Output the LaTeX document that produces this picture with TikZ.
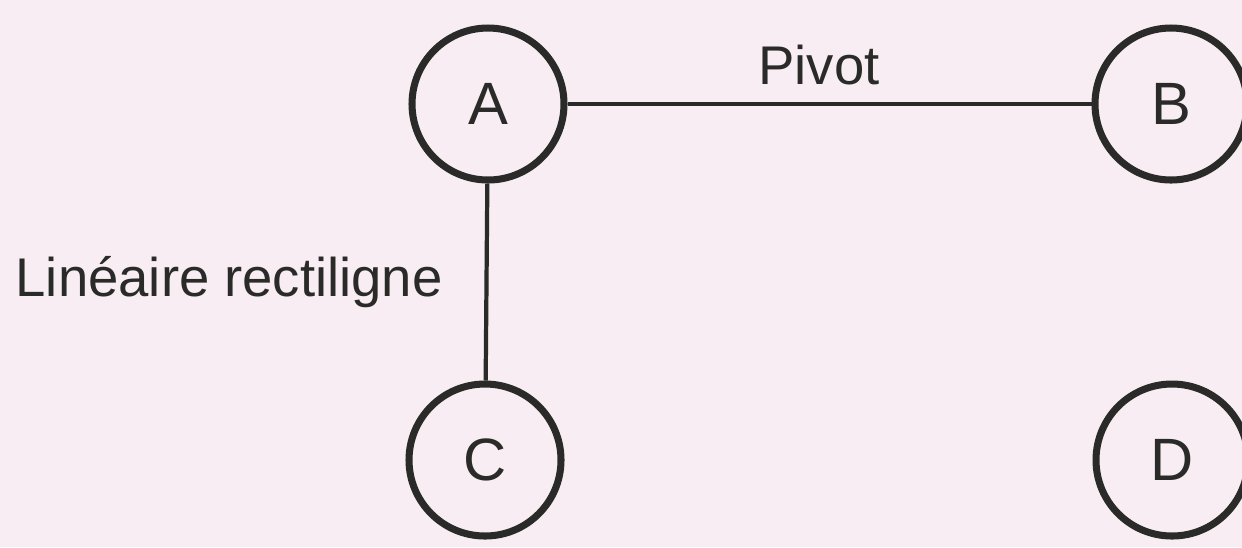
\documentclass[tikz,border=0pt]{standalone}
\usepackage{fontspec}
\setmainfont{Liberation Sans}
\definecolor{papier}{RGB}{248,237,242}
\definecolor{encre}{RGB}{42,42,40}
\tikzset{
  piece/.style={circle, draw=encre, line width=2pt, minimum size=1.52cm, inner sep=0pt, font=\fontsize{17}{20}\selectfont, text=encre},
  liaison/.style={draw=encre, line width=1.2pt},
  nomliaison/.style={font=\fontsize{15.5}{18}\selectfont, text=encre}
}
\begin{document}
\begin{tikzpicture}
\fill[papier] (0,0) rectangle (12.42,5.47);
\useasboundingbox (0,0) rectangle (12.42,5.47);
 \node[piece] (A) at(4.88,4.43) {A} ;
 \node[piece] (B) at(11.71,4.43) {B} ;
 \node[piece] (C) at(4.85,0.87) {C} ;
 \node[piece] (D) at(11.72,0.87) {D} ;
\draw[liaison] (A) -- node[nomliaison, pos=0.48, above=0.05cm]{Pivot} (B) ;
\draw[liaison] (A) -- node[nomliaison, midway, left=0.3cm]{Linéaire rectiligne} (C) ;
\end{tikzpicture}
\end{document}
